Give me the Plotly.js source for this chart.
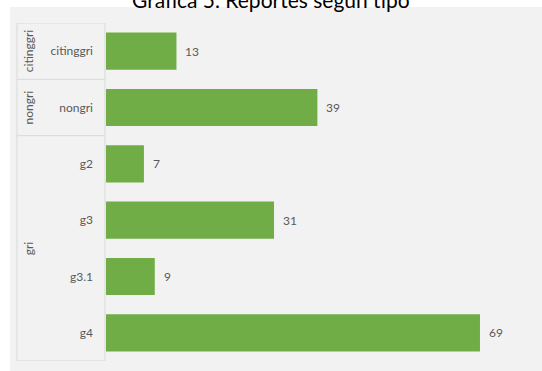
<!DOCTYPE html>
<html>
<head>
<meta charset="utf-8">
<script src="https://cdn.plot.ly/plotly-3.0.1.min.js"></script>
<style>html,body{margin:0;padding:0;background:#fff;}#chart{width:542px;height:371px;}</style>
</head>
<body>
<div id="chart"></div>
<script>
const chartTitle = 'Gráfica 5. Reportes según tipo';
const groups = ['citinggri', 'nongri', 'gri', 'gri', 'gri', 'gri'];
const categories = ['citinggri', 'nongri', 'g2', 'g3', 'g3.1', 'g4'];
const values = [13, 39, 7, 31, 9, 69];

const W = 542, H = 371;
const M = {l: 106, r: 0, t: 23, b: 10};
const plotW = W - M.l - M.r;
const px2paperX = p => (p - M.l) / plotW;
const lineColor = '#d9d9d9';
const textColor = '#595959';
const font = 'Lato, "Open Sans", sans-serif';

const ids = categories.map((c, i) => i);

const shapes = [];
shapes.push({type: 'rect', xref: 'paper', yref: 'paper', x0: px2paperX(10), x1: px2paperX(W + 5),
  y0: -0.2, y1: 1 + (M.t - 7) / (H - M.t - M.b), fillcolor: '#f2f2f2', line: {width: 0}, layer: 'below'});

const spans = [];
groups.forEach((g, i) => {
  if (spans.length && spans[spans.length - 1].name === g) spans[spans.length - 1].end = i;
  else spans.push({name: g, start: i, end: i});
});
const xL = px2paperX(17), xR = px2paperX(105);
const bounds = [-0.5].concat(spans.map(s => s.end + 0.5));
bounds.forEach(b => shapes.push({type: 'line', xref: 'paper', yref: 'y', x0: xL, x1: xR, y0: b, y1: b,
  line: {color: lineColor, width: 1}}));
[xL, xR].forEach(x => shapes.push({type: 'line', xref: 'paper', yref: 'y', x0: x, x1: x, y0: -0.5, y1: categories.length - 0.5,
  line: {color: lineColor, width: 1}}));

const annotations = [];
spans.forEach(s => annotations.push({xref: 'paper', yref: 'y', x: px2paperX(28), y: (s.start + s.end) / 2,
  xanchor: 'center', yanchor: 'middle',
  text: s.name, showarrow: false, textangle: -90, font: {family: font, size: 12, color: textColor}}));
values.forEach((v, i) => annotations.push({xref: 'x', yref: 'y', x: v, y: ids[i], text: String(v),
  xanchor: 'left', xshift: 7, showarrow: false, font: {family: font, size: 12, color: textColor}}));
annotations.push({xref: 'paper', yref: 'paper', x: px2paperX(W / 2), y: 1, xanchor: 'center', yanchor: 'middle', yshift: 24,
  text: chartTitle, showarrow: false, font: {family: font, size: 21, color: '#000'}});

Plotly.newPlot('chart', [{
  type: 'bar', orientation: 'h', x: values, y: ids,
  marker: {color: '#70ad47', line: {width: 0}},
  hoverinfo: 'skip'
}], {
  width: W, height: H,
  margin: M,
  paper_bgcolor: '#ffffff', plot_bgcolor: 'rgba(0,0,0,0)',
  bargap: 0.34,
  showlegend: false,
  xaxis: {range: [0, plotW / 5.42], visible: false, fixedrange: true},
  yaxis: {type: 'linear', range: [categories.length - 0.5, -0.5], tickmode: 'array', tickvals: ids, ticktext: categories,
    showgrid: false, zeroline: false, showline: false, ticks: '', ticklabelstandoff: 12,
    tickfont: {family: font, size: 12, color: textColor}},
  shapes: shapes,
  annotations: annotations
}, {staticPlot: true});
</script>
</body>
</html>
